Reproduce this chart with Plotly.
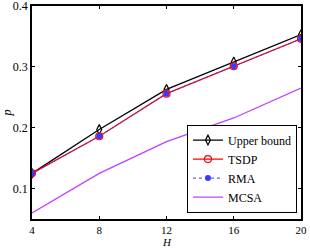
import plotly.graph_objects as go

H = [4, 8, 12, 16, 20]
upper_bound = [0.125, 0.197, 0.263, 0.308, 0.353]
tsdp = [0.125, 0.186, 0.256, 0.301, 0.346]
rma = [0.125, 0.186, 0.256, 0.301, 0.346]
mcsa = [0.060, 0.125, 0.177, 0.216, 0.265]

x_ticks = [4, 8, 12, 16, 20]
y_ticks = [0.1, 0.2, 0.3, 0.4]
y_tick_labels = ["0.1", "0.2", "0.3", "0.4"]

font = "Liberation Serif"

fig = go.Figure()
fig.add_trace(go.Scatter(x=H, y=upper_bound, name="Upper bound", mode="lines+markers",
                         line=dict(color="black", width=1.3),
                         marker=dict(symbol="diamond-tall-open", size=7, color="black", line=dict(width=1.2))))
fig.add_trace(go.Scatter(x=H, y=tsdp, name="TSDP", mode="lines+markers",
                         line=dict(color="red", width=1.3),
                         marker=dict(symbol="circle-open", size=7, color="red", line=dict(width=1.2))))
fig.add_trace(go.Scatter(x=H, y=rma, name="RMA", mode="lines+markers",
                         line=dict(color="#3a3aff", width=1, dash="dot"),
                         marker=dict(symbol="circle", size=6, color="#3a3aff")))
fig.add_trace(go.Scatter(x=H, y=mcsa, name="MCSA", mode="lines",
                         line=dict(color="#bf40ff", width=1.3)))

axis_common = dict(showline=True, linecolor="black", linewidth=1.5, mirror="ticks",
                   ticks="inside", ticklen=3, tickcolor="black", showgrid=False, zeroline=False,
                   automargin=False, ticklabeloverflow="allow")

fig.update_xaxes(range=[4, 20], tickvals=x_ticks, ticktext=[str(v) for v in x_ticks],
                 tickfont=dict(family=font, size=11, color="black"),
                 **axis_common)
fig.update_yaxes(range=[0.05, 0.4], tickvals=y_ticks, ticktext=y_tick_labels,
                 tickfont=dict(family=font, size=12, color="black"),
                 title=dict(text="<i>p</i>", font=dict(family=font, size=12, color="black"), standoff=4),
                 **axis_common)

fig.add_annotation(text="<i>H</i>", xref="paper", yref="paper", x=0.5, y=-0.106,
                   xanchor="center", yanchor="middle", showarrow=False, borderpad=0,
                   font=dict(family=font, size=11, color="black"))

fig.update_layout(
    width=310, height=248,
    margin=dict(l=32, r=9, t=6, b=29),
    paper_bgcolor="white", plot_bgcolor="white",
    font=dict(family=font, size=12, color="black"),
    legend=dict(x=0.985, y=0.03, xanchor="right", yanchor="bottom",
                bordercolor="black", borderwidth=1, bgcolor="white",
                font=dict(family=font, size=12, color="black"),
                itemwidth=30, tracegroupgap=0),
    showlegend=True,
)

fig.write_html("out.html", config={"displayModeBar": False},
               post_script="document.body.style.margin='0';document.body.style.padding='0';")
